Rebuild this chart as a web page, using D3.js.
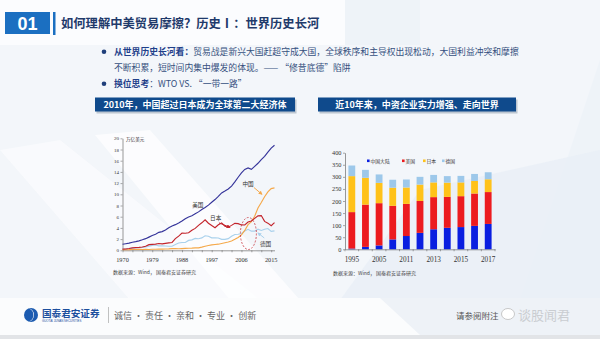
<!DOCTYPE html>
<html><head><meta charset="utf-8">
<script src="https://cdn.jsdelivr.net/npm/d3@7"></script>
<style>body{margin:0;overflow:hidden;background:#fff}svg{display:block}</style>
</head><body><svg id="c" width="600" height="339"></svg>
<script>
// ---------- DATA ----------
const lineYears = d3.range(1970, 2017);
const usGDP = [1.07,1.17,1.28,1.43,1.55,1.69,1.87,2.08,2.35,2.63,2.86,3.21,3.34,3.63,4.04,4.34,4.58,4.86,5.24,5.64,5.96,6.16,6.52,6.86,7.29,7.64,8.07,8.58,9.06,9.63,10.25,10.58,10.94,11.46,12.21,13.04,13.82,14.45,14.71,14.45,14.99,15.54,16.20,16.78,17.53,18.24,18.75];
const chinaGDP = [0.09,0.10,0.11,0.14,0.14,0.16,0.15,0.17,0.15,0.18,0.19,0.20,0.21,0.23,0.26,0.31,0.30,0.27,0.31,0.35,0.36,0.38,0.43,0.44,0.56,0.73,0.86,0.96,1.03,1.09,1.21,1.34,1.47,1.66,1.96,2.29,2.75,3.55,4.59,5.10,6.09,7.55,8.53,9.57,10.44,11.02,11.14];
const japanGDP = [0.21,0.24,0.32,0.43,0.48,0.52,0.59,0.72,1.01,1.06,1.11,1.22,1.14,1.24,1.32,1.40,2.08,2.53,3.07,3.05,3.13,3.58,3.91,4.45,4.91,5.45,4.83,4.42,4.03,4.56,4.89,4.30,4.12,4.45,4.82,4.76,4.53,4.52,5.04,5.23,5.70,6.16,6.20,5.16,4.85,4.39,4.93];
const germanyGDP = [0.22,0.25,0.30,0.40,0.45,0.49,0.52,0.60,0.74,0.88,0.95,0.80,0.78,0.77,0.73,0.73,1.05,1.30,1.40,1.40,1.77,1.86,2.12,2.07,2.21,2.59,2.50,2.22,2.24,2.20,1.95,1.95,2.08,2.51,2.82,2.86,3.00,3.44,3.75,3.42,3.42,3.76,3.54,3.75,3.89,3.38,3.48];
const lineSeries = ["美国","中国","日本","德国"];
const lineYTicks = d3.range(0, 21, 2);
const lineXTicks = [1970,1979,1988,1997,2006,2015];

const barYears = ["1995","2000","2005","2010","2011","2012","2013","2014","2015","2016","2017"];
const barXLabels = ["1995","2005","2011","2013","2015","2017"];
const chinaCount = [3,10,16,41,55,68,83,89,92,97,105];
const usCount = [151,175,175,139,133,132,133,128,128,134,132];
const japanCount = [149,111,84,75,68,68,61,59,57,52,53];
const germanyCount = [44,33,35,33,33,32,31,27,27,29,29];
const barSeries = ["中国大陆","美国","日本","德国"];
const barYTicks = d3.range(0, 401, 50);

// ---------- DRAW ----------
const svg = d3.select("#c");
const CJK = "'Noto Sans CJK SC','Noto Sans',sans-serif";
const SERIF = "'Liberation Serif','DejaVu Serif',serif";

// background
svg.append("rect").attr("width",600).attr("height",339).attr("fill","#eef3f8");
svg.append("path").attr("d","M0,0 L345,0 L345,45 L0,45 Z").attr("fill","#fbfcfe");
svg.append("path").attr("d","M0,45 L420,45 L420,0 L600,0 L600,60 L520,300 L0,300 Z").attr("fill","#f3f6fa");
svg.append("path").attr("d","M0,150 L60,140 L260,300 L130,300 Z").attr("fill","#fafbfd").attr("opacity",0.9);
svg.append("path").attr("d","M95,135 L150,130 L300,300 L230,300 Z").attr("fill","#ffffff").attr("opacity",0.7);
svg.append("path").attr("d","M340,300 L420,190 L600,150 L600,300 Z").attr("fill","#e9eff6").attr("opacity",0.8);
svg.append("rect").attr("x",0).attr("y",298).attr("width",600).attr("height",37).attr("fill","#fbfcfd");
svg.append("path").attr("d","M380,298 L600,298 L600,335 L420,335 Z").attr("fill","#eef2f7");
svg.append("rect").attr("x",0).attr("y",335).attr("width",600).attr("height",4).attr("fill","#e2e4e7");

// header
svg.append("rect").attr("x",5).attr("y",12).attr("width",45).attr("height",22).attr("fill","#1b6fc1");
svg.append("text").attr("x",27.5).attr("y",29.5).attr("text-anchor","middle").attr("fill","#fff")
  .attr("font-family","'Liberation Sans',Arial,sans-serif").attr("font-weight","bold").attr("font-size",18).text("01");
svg.append("rect").attr("x",53).attr("y",12).attr("width",2.5).attr("height",23).attr("fill","#1b6fc1");
svg.append("text").attr("x",61).attr("y",27.5).attr("fill","#1f3a6b").attr("font-family",CJK)
  .attr("font-weight",700).attr("font-size",12.3).text("如何理解中美贸易摩擦？历史Ⅰ：世界历史长河");

// bullets
const bullet = (y, bold, rest) => {
  svg.append("circle").attr("cx",104).attr("cy",y-0.3).attr("r",2.3).attr("fill","#1f3f7a");
  const t = svg.append("text").attr("x",114).attr("y",y+3).attr("font-family",CJK).attr("font-size",8.8);
  if (bold) t.append("tspan").attr("font-weight",700).attr("fill","#1f3f8a").text(bold);
  t.append("tspan").attr("fill","#35507e").text(rest);
};
bullet(52, "从世界历史长河看：", "贸易战是新兴大国赶超守成大国，全球秩序和主导权出现松动，大国利益冲突和摩擦");
svg.append("text").attr("x",114).attr("y",71).attr("font-family",CJK).attr("font-size",8.8).attr("fill","#35507e")
  .text("不断积累，短时间内集中爆发的体现。——  “修昔底德”陷阱");
bullet(84, "换位思考", "：WTO VS.  “一带一路”");

// section boxes
const secBox = (x, w, label) => {
  svg.append("rect").attr("x",x+1.5).attr("y",99.5).attr("width",w).attr("height",14).attr("fill","#9aa6b6").attr("opacity",0.6);
  svg.append("rect").attr("x",x).attr("y",97.5).attr("width",w).attr("height",14).attr("fill","#0f4a8c");
  svg.append("text").attr("x",x+w/2).attr("y",108).attr("text-anchor","middle").attr("fill","#fff")
    .attr("font-family",CJK).attr("font-weight",700).attr("font-size",9).text(label);
};
secBox(95, 200, "2010年，中国超过日本成为全球第二大经济体");
secBox(318, 198, "近10年来，中资企业实力增强、走向世界");

// ---------- LEFT LINE CHART ----------
const xL = d3.scaleLinear().domain([1970, 2016]).range([122.5, 274.5]);
const yL = d3.scaleLinear().domain([0, 20]).range([250.3, 138.3]);
const gL = svg.append("g");
const yAxL = gL.append("g").attr("transform","translate(122.5,0)")
  .call(d3.axisLeft(yL).tickValues(lineYTicks).tickSize(2).tickSizeOuter(0));
yAxL.select(".domain").attr("stroke","#555").attr("stroke-width",0.6);
yAxL.selectAll("line").attr("stroke","#555").attr("stroke-width",0.5);
yAxL.selectAll("text").attr("font-family",SERIF).attr("font-size",5).attr("fill","#333").attr("x",-3.5);
const xAxL = gL.append("g").attr("transform","translate(0,250.3)")
  .call(d3.axisBottom(xL).tickValues(d3.range(1970, 2017, 3)).tickSize(2).tickSizeOuter(0).tickFormat(""));
xAxL.select(".domain").attr("stroke","#555").attr("stroke-width",0.6);
xAxL.selectAll("line").attr("stroke","#555").attr("stroke-width",0.5);
gL.selectAll("text.xl").data(lineXTicks).join("text").attr("class","xl")
  .attr("x", d => xL(d)).attr("y", 261.5).attr("text-anchor","middle")
  .attr("font-family",SERIF).attr("font-size",6.3).attr("fill","#333").text(d => d);
gL.append("text").attr("x",126).attr("y",140.5).attr("font-family",CJK).attr("font-size",4.6).attr("fill","#333").text("万亿美元");

const lineData = [
  {name:"德国", vals: germanyGDP, color:"#a9d1ec"},
  {name:"中国", vals: chinaGDP, color:"#f5a94b"},
  {name:"日本", vals: japanGDP, color:"#c3242c"},
  {name:"美国", vals: usGDP, color:"#35349a"}
];
const lineGen = d3.line().x((d,i) => xL(lineYears[i])).y(d => yL(d));
gL.selectAll("path.ser").data(lineData).join("path").attr("class","ser")
  .attr("d", d => lineGen(d.vals)).attr("fill","none").attr("stroke", d => d.color).attr("stroke-width",1.15);

// annotations
const defs = svg.append("defs");
[["aO","#f5a94b"],["aR","#c3242c"],["aB","#a9d1ec"]].forEach(([id,c]) => {
  defs.append("marker").attr("id",id).attr("viewBox","0 0 10 10").attr("refX",8).attr("refY",5)
    .attr("markerWidth",4).attr("markerHeight",4).attr("orient","auto")
    .append("path").attr("d","M0,0 L10,5 L0,10 Z").attr("fill",c);
});
const annText = (yr, v, t) => gL.append("text").attr("x",xL(yr)).attr("y",yL(v)).attr("text-anchor","middle")
  .attr("font-family",CJK).attr("font-size",5.6).attr("fill","#333").text(t);
annText(1992.8, 7.7, "美国");
annText(2008.0, 11.4, "中国");
annText(1998.2, 5.5, "日本");
annText(2013.3, 0.8, "德国");
const arrow = (y0,v0,y1,v1,c,m) => gL.append("line").attr("x1",xL(y0)).attr("y1",yL(v0)).attr("x2",xL(y1)).attr("y2",yL(v1))
  .attr("stroke",c).attr("stroke-width",1).attr("marker-end",`url(#${m})`);
arrow(2009.8, 11.2, 2012.2, 10.0, "#f5a94b", "aO");
arrow(1999.2, 4.9, 2002.5, 4.1, "#c3242c", "aR");
arrow(2012.9, 2.2, 2011.0, 3.1, "#a9d1ec", "aB");
gL.append("ellipse").attr("cx",xL(2008.1)).attr("cy",yL(3.0)).attr("rx",8).attr("ry",16)
  .attr("fill","none").attr("stroke","#c3242c").attr("stroke-width",0.7).attr("stroke-dasharray","2,1.5");
gL.append("text").attr("x",113).attr("y",273.5).attr("font-family",CJK).attr("font-size",5).attr("fill","#444")
  .text("数据来源：Wind，  国泰君安证券研究");

// ---------- RIGHT BAR CHART ----------
const xB = d3.scaleBand().domain(barYears).range([345, 495]).paddingInner(0.5).paddingOuter(0.25);
const yB = d3.scaleLinear().domain([0, 400]).range([249.3, 152.7]);
const gB = svg.append("g");
const rows = barYears.map((y,i) => ({year:y, "中国大陆":chinaCount[i], "美国":usCount[i], "日本":japanCount[i], "德国":germanyCount[i]}));
const stack = d3.stack().keys(barSeries)(rows);
const barColors = {"中国大陆":"#0a1ee0","美国":"#ec1b1f","日本":"#ffc21a","德国":"#9dc8ea"};
gB.selectAll("g.s").data(stack).join("g").attr("class","s").attr("fill", d => barColors[d.key])
  .selectAll("rect").data(d => d).join("rect")
  .attr("x", d => xB(d.data.year)).attr("width", xB.bandwidth())
  .attr("y", d => yB(d[1])).attr("height", d => yB(d[0]) - yB(d[1]));
const yAxB = gB.append("g").attr("transform","translate(345,0)")
  .call(d3.axisLeft(yB).tickValues(barYTicks).tickSize(2).tickSizeOuter(0));
yAxB.select(".domain").attr("stroke","#555").attr("stroke-width",0.6);
yAxB.selectAll("line").attr("stroke","#555").attr("stroke-width",0.5);
yAxB.selectAll("text").attr("font-family",SERIF).attr("font-size",6.3).attr("fill","#333").attr("x",-3.5);
const xAxB = gB.append("g").attr("transform","translate(0,249.3)")
  .call(d3.axisBottom(xB).tickSize(0).tickSizeOuter(0).tickFormat(""));
xAxB.select(".domain").attr("stroke","#555").attr("stroke-width",0.6);
gB.selectAll("line.bt").data(barYears.concat(["end"])).join("line").attr("class","bt")
  .attr("x1",(d,i) => 345 + i*xB.step()).attr("x2",(d,i) => 345 + i*xB.step())
  .attr("y1",249.3).attr("y2",251.3).attr("stroke","#555").attr("stroke-width",0.5);
gB.selectAll("text.xb").data(barXLabels).join("text").attr("class","xb")
  .attr("x", d => xB(d) + xB.bandwidth()/2).attr("y", 262).attr("text-anchor","middle")
  .attr("font-family",SERIF).attr("font-size",7.2).attr("fill","#333").text(d => d);
// legend
const legX = [367, 402, 423, 442];
barSeries.forEach((s,i) => {
  gB.append("rect").attr("x",legX[i]).attr("y",159.5).attr("width",2.6).attr("height",2.6).attr("fill",barColors[s]);
  gB.append("text").attr("x",legX[i]+3.5).attr("y",162.5).attr("font-family",CJK).attr("font-size",4.8).attr("fill","#333").text(s);
});
gB.append("text").attr("x",333).attr("y",274.5).attr("font-family",CJK).attr("font-size",5).attr("fill","#444")
  .text("数据来源：Wind，  国泰君安证券研究");

// ---------- FOOTER ----------
svg.append("circle").attr("cx",31).attr("cy",315).attr("r",7).attr("fill","#1c5bb0");
svg.append("path").attr("d","M29,308.5 A7,7 0 0 1 29,321.5 A5,6.5 0 0 0 29,308.5 Z").attr("fill","#fff");
svg.append("text").attr("x",42).attr("y",317).attr("font-family",CJK).attr("font-weight",700).attr("font-size",9.6).attr("fill","#1c4f9e").text("国泰君安证券");
svg.append("text").attr("x",42).attr("y",322.3).attr("font-family","'Liberation Sans',sans-serif").attr("font-size",2.9).attr("fill","#1c4f9e").text("GUOTAI JUNAN SECURITIES");
svg.append("line").attr("x1",108.5).attr("x2",108.5).attr("y1",307).attr("y2",323).attr("stroke","#999").attr("stroke-width",0.6);
svg.append("text").attr("x",114).attr("y",318.5).attr("font-family",CJK).attr("font-size",9).attr("fill","#666").text("诚信 · 责任 · 亲和 · 专业 · 创新");
svg.append("text").attr("x",456).attr("y",318.5).attr("font-family",CJK).attr("font-size",8.5).attr("fill","#555").text("请参阅附注");
svg.append("ellipse").attr("cx",508).attr("cy",314).attr("rx",6.5).attr("ry",5.5).attr("fill","#fff").attr("stroke","#bbb").attr("stroke-width",0.8);
svg.append("text").attr("x",518).attr("y",320).attr("font-family",CJK).attr("font-size",13).attr("fill","#c9ccd0").attr("opacity",0.95).text("谈股闻君");
</script></body></html>
